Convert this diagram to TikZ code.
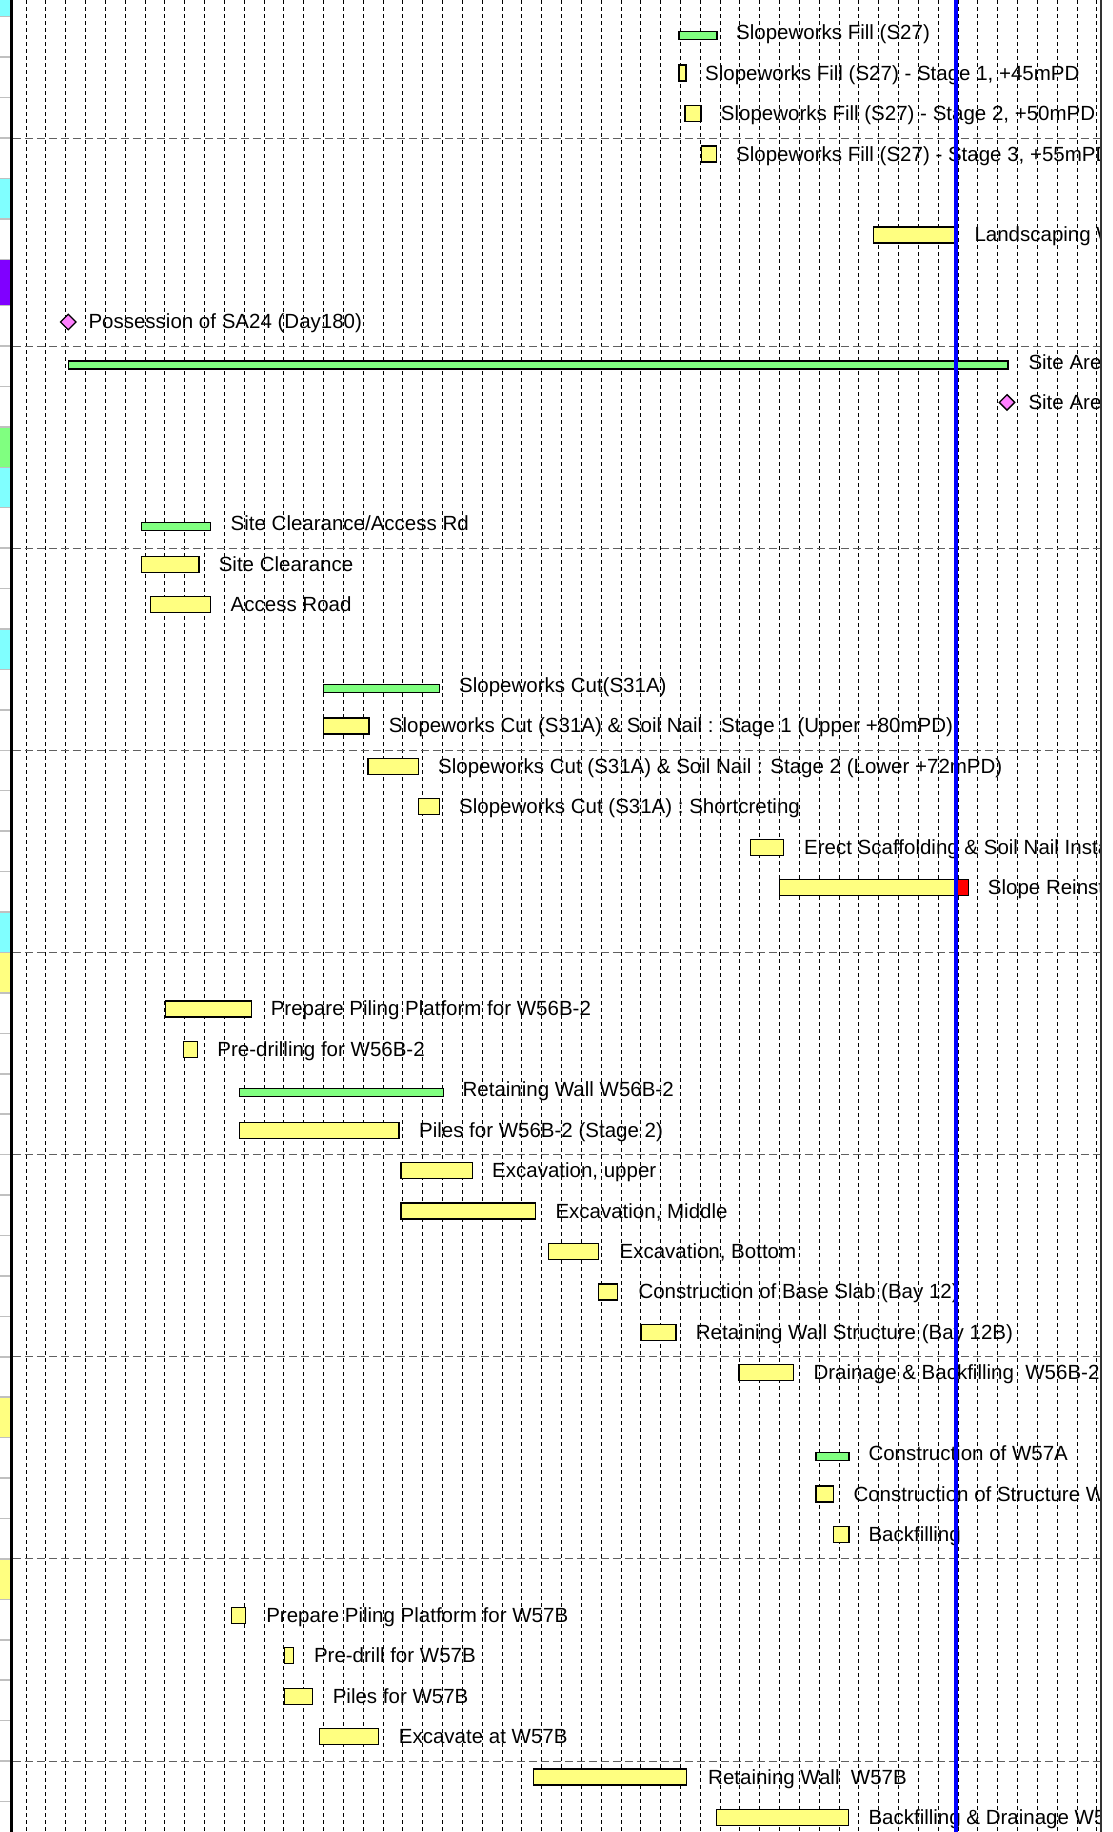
\documentclass[tikz,border=0pt]{standalone}
\usepackage{fontspec}
\setmainfont{Liberation Sans}
\usetikzlibrary{positioning}
\usetikzlibrary{shapes.geometric}

\definecolor{taskyellow}{RGB}{255,255,128}
\definecolor{sumgreen}{RGB}{128,255,128}
\definecolor{mspink}{RGB}{255,128,255}
\definecolor{rowcyan}{RGB}{128,255,255}
\definecolor{rowpurple}{RGB}{128,0,255}
\definecolor{bandgray}{RGB}{96,96,96}
\definecolor{sepgray}{RGB}{192,192,192}

\begin{document}
\begin{tikzpicture}[x=1pt, y=-1pt,
task/.style ={draw=black, line width=1.3pt, fill=taskyellow},
summary/.style ={draw=black, line width=1.3pt, fill=sumgreen},
late/.style ={draw=black, line width=1.3pt, fill=red},
milestone/.style ={diamond, draw=black, line width=1.3pt, fill=mspink, minimum size=16pt, inner sep=0pt},
lbl/.style ={anchor=base west, inner sep=0pt, yshift=1.5pt, font=\fontsize{20.5}{24}\selectfont},
gridline/.style ={black, line width=0.8pt, dash pattern=on 4pt off 3pt},
bandline/.style ={bandgray, line width=1pt, dash pattern=on 8pt off 4pt}]
\useasboundingbox[fill=white] (0,0) rectangle (1113,1832);

% row strip
\fill[rowcyan] (0,0) rectangle (10,16.71);
\fill[rowcyan] (0,178.43) rectangle (10,218.86);
\fill[rowpurple] (0,259.29) rectangle (10,305.57);
\fill[sumgreen] (0,426.86) rectangle (10,467.29);
\fill[rowcyan] (0,467.29) rectangle (10,507.72);
\fill[rowcyan] (0,629.01) rectangle (10,669.44);
\fill[rowcyan] (0,912.02) rectangle (10,952.45);
\fill[taskyellow] (0,952.45) rectangle (10,992.88);
\fill[taskyellow] (0,1397.18) rectangle (10,1437.61);
\fill[taskyellow] (0,1558.9) rectangle (10,1599.33);
\foreach \k in {0,...,6} \draw[sepgray, line width=1.5pt] (0,{16.71+40.43*\k}) -- (10,{16.71+40.43*\k});
\foreach \k in {7,...,44} \draw[sepgray, line width=1.5pt] (0,{22.56+40.43*\k}) -- (10,{22.56+40.43*\k});
\draw[black, line width=2.5pt] (11.5,0) -- (11.5,1832);

% grid
\foreach \i in {0,...,54} \draw[gridline] ({26+19.83*\i},0) -- ({26+19.83*\i},1832);
\foreach \y in {138,346,548.15,750.3,952.45,1154.6,1356.75,1558.9,1761.05} \draw[bandline] (12.8,\y) -- (1100,\y);

\begin{scope}
\clip (12.8,0) rectangle (1100,1832);
\draw[summary] (679,31.7) rectangle (717,39.7);
\node[lbl] (l0) at (736,41.2) {Slopeworks Fill (S27)};
\draw[task] (679,65.1) rectangle (686,81.1);
\node[lbl] (l1) at (705,81.6) {Slopeworks Fill (S27) - Stage 1, +45mPD};
\draw[task] (685,105.6) rectangle (701,121.6);
\node[lbl] (l2) at (720.7,122.1) {Slopeworks Fill (S27) - Stage 2, +50mPD};
\draw[task] (701.7,146) rectangle (716.7,162);
\node[lbl] (l3) at (736,162.5) {Slopeworks Fill (S27) - Stage 3, +55mPD};
\draw[task] (873.3,226.9) rectangle (954.3,242.9);
\node[lbl] (l5) at (974.3,243.4) {Landscaping W};

\node[milestone] (m7) at (68.3,322) {};
\node[lbl] (l7) at (88.3,330.1) {Possession of SA24 (Day180)};
\draw[summary] (68.3,361) rectangle (1008,369);
\node[lbl] (l8) at (1028.3,370.5) {Site Are};
\node[milestone] (m9) at (1007,402.4) {};
\node[lbl] (l9) at (1028.3,410.9) {Site Are};

\draw[summary] (141.5,522.7) rectangle (210.7,530.7);
\node[lbl] (l12) at (230.5,532.2) {Site Clearance/Access Rd};
\draw[task] (141.5,556.2) rectangle (198.9,572.2);
\node[lbl] (l13) at (218.6,572.7) {Site Clearance};
\draw[task] (150.6,596.6) rectangle (210.7,612.6);
\node[lbl] (l14) at (230.5,613.1) {Access Road};

\draw[summary] (323.4,684.4) rectangle (439.3,692.4);
\node[lbl] (l16) at (459,693.9) {Slopeworks Cut(S31A)};
\draw[task] (323.4,717.9) rectangle (368.9,733.9);
\node[lbl] (l17) at (388.7,734.4) {Slopeworks Cut (S31A) \& Soil Nail : Stage 1 (Upper +80mPD)};
\draw[task] (368.1,758.3) rectangle (418.7,774.3);
\node[lbl] (l18) at (438,774.8) {Slopeworks Cut (S31A) \& Soil Nail : Stage 2 (Lower +72mPD)};
\draw[task] (418.3,798.7) rectangle (439.3,814.7);
\node[lbl] (l19) at (459,815.2) {Slopeworks Cut (S31A) : Shortcreting};
\draw[task] (750.7,839.2) rectangle (783.3,855.2);
\node[lbl] (l20) at (804,855.7) {Erect Scaffolding \& Soil Nail Insta};
\draw[task] (779.3,879.6) rectangle (956,895.6);
\draw[late] (956,879.6) rectangle (968.3,895.6);
\node[lbl] (l21) at (987.7,896.1) {Slope Reinst};

\draw[task] (165.8,1000.9) rectangle (251.2,1016.9);
\node[lbl] (l24) at (270.6,1017.4) {Prepare Piling Platform for W56B-2};
\draw[task] (183.6,1041.3) rectangle (197.4,1057.3);
\node[lbl] (l25) at (217.2,1057.8) {Pre-drilling for W56B-2};
\draw[summary] (239.8,1088.7) rectangle (443.4,1096.7);
\node[lbl] (l26) at (462.4,1098.2) {Retaining Wall W56B-2};
\draw[task] (239.8,1122.2) rectangle (399.1,1138.2);
\node[lbl] (l27) at (418.9,1138.7) {Piles for W56B-2 (Stage 2)};
\draw[task] (401.1,1162.6) rectangle (472.3,1178.6);
\node[lbl] (l28) at (492,1179.1) {Excavation, upper};
\draw[task] (401.1,1203) rectangle (535.5,1219);
\node[lbl] (l29) at (555.3,1219.5) {Excavation, Middle};
\draw[task] (548.6,1243.5) rectangle (598.8,1259.5);
\node[lbl] (l30) at (619.4,1260) {Excavation, Bottom};
\draw[task] (598.8,1283.9) rectangle (617.8,1299.9);
\node[lbl] (l31) at (638.3,1300.4) {Construction of Base Slab (Bay 12)};
\draw[task] (641.1,1324.3) rectangle (675.9,1340.3);
\node[lbl] (l32) at (695.7,1340.8) {Retaining Wall Structure (Bay 12B)};
\draw[task] (739,1364.8) rectangle (793.3,1380.8);
\node[lbl] (l33) at (813.3,1381.3) {Drainage \& Backfilling\ \ W56B-2};

\draw[summary] (816,1452.6) rectangle (849,1460.6);
\node[lbl] (l35) at (868.3,1462.1) {Construction of W57A};
\draw[task] (816,1486) rectangle (833.3,1502);
\node[lbl] (l36) at (853.3,1502.5) {Construction of Structure W};
\draw[task] (833.3,1526.5) rectangle (849,1542.5);
\node[lbl] (l37) at (868.3,1543) {Backfilling};

\draw[task] (231.3,1607.3) rectangle (245.5,1623.3);
\node[lbl] (l39) at (266.1,1623.8) {Prepare Piling Platform for W57B};
\draw[task] (284.8,1647.8) rectangle (293.8,1663.8);
\node[lbl] (l40) at (313.8,1664.3) {Pre-drill for W57B};
\draw[task] (284.8,1688.2) rectangle (312.5,1704.2);
\node[lbl] (l41) at (332.6,1704.7) {Piles for W57B};
\draw[task] (319.6,1728.6) rectangle (378.6,1744.6);
\node[lbl] (l42) at (398.7,1745.1) {Excavate at W57B};
\draw[task] (533.5,1769.1) rectangle (686.6,1785.1);
\node[lbl] (l43) at (708,1785.6) {Retaining Wall\ \ W57B};
\draw[task] (716.5,1809.5) rectangle (848.7,1825.5);
\node[lbl] (l44) at (868.3,1826) {Backfilling \& Drainage W5};
\end{scope}

% today line and border
\draw[blue, line width=3.3pt] (956,0) -- (956,1832);
\draw[black!80, line width=2pt] (1101,0) -- (1101,1832);
\end{tikzpicture}
\end{document}
